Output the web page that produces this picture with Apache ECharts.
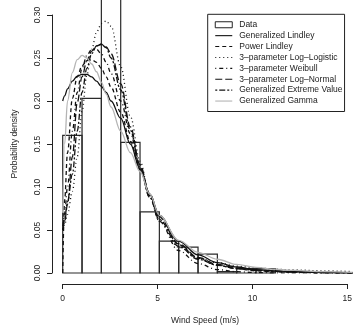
<!DOCTYPE html>
<html><head><meta charset="utf-8">
<script src="https://cdn.jsdelivr.net/npm/echarts@6/dist/echarts.min.js"></script>
<style>html,body{margin:0;padding:0;background:#fff}#c{width:355px;height:332px}</style>
</head><body><div id="c"></div>
<script>
// Histogram bins (wind speed, m/s) and densities
const binStart = [0, 1, 2, 3, 4, 5, 6, 7, 8, 9, 10];
const binEnd   = [1, 2, 3, 4, 5, 6, 7, 8, 9, 10, 11];
const density  = [0.160, 0.203, 0.320, 0.152, 0.071, 0.037, 0.030, 0.022, 0.0015, 0.005, 0.005];

// Fitted density curves
const xs  = [0, 0.1, 0.25, 0.5, 0.75, 1, 1.25, 1.5, 1.75, 2, 2.25, 2.5, 3, 3.5, 4, 4.5, 5, 6, 7, 8, 9, 10, 11, 12, 13.5, 15];
const genLindley = [0.2, 0.206, 0.214, 0.223, 0.229, 0.231, 0.231, 0.228, 0.223, 0.217, 0.21, 0.2, 0.18, 0.15, 0.121, 0.092, 0.067, 0.037, 0.021, 0.012, 0.007, 0.004, 0.0025, 0.0015, 0.0006, 0.0002];
const powLindley = [0.0, 0.085, 0.14, 0.203, 0.228, 0.241, 0.247, 0.248, 0.245, 0.238, 0.228, 0.216, 0.187, 0.153, 0.12, 0.09, 0.065, 0.033, 0.017, 0.009, 0.005, 0.0025, 0.0013, 0.0007, 0.0002, 0.0001];
const logLogistic3 = [0.05, 0.056, 0.068, 0.095, 0.135, 0.188, 0.23, 0.26, 0.28, 0.29, 0.293, 0.287, 0.24, 0.182, 0.13, 0.09, 0.06, 0.03, 0.018, 0.012, 0.008, 0.006, 0.0045, 0.0035, 0.0025, 0.0017];
const weibull3 = [0.05, 0.07, 0.1, 0.165, 0.21, 0.238, 0.253, 0.26, 0.26, 0.255, 0.245, 0.232, 0.2, 0.162, 0.122, 0.088, 0.06, 0.026, 0.011, 0.004, 0.0015, 0.0005, 0.0002, 0.0001, 0, 0];
const logNormal3 = [0.05, 0.06, 0.08, 0.135, 0.198, 0.228, 0.247, 0.258, 0.264, 0.266, 0.263, 0.255, 0.22, 0.17, 0.126, 0.092, 0.066, 0.034, 0.018, 0.01, 0.006, 0.0035, 0.0022, 0.0014, 0.0007, 0.0003];
const genExtreme = [0.05, 0.063, 0.083, 0.115, 0.165, 0.21, 0.238, 0.255, 0.264, 0.266, 0.262, 0.25, 0.213, 0.166, 0.123, 0.088, 0.062, 0.031, 0.016, 0.009, 0.005, 0.003, 0.0018, 0.001, 0.0005, 0.0002];
const genGamma = [0.07, 0.15, 0.2, 0.233, 0.248, 0.253, 0.25, 0.243, 0.234, 0.222, 0.208, 0.193, 0.165, 0.14, 0.118, 0.092, 0.067, 0.038, 0.024, 0.016, 0.01, 0.0065, 0.0045, 0.003, 0.0015, 0.0008];

const seriesNames = ['Data', 'Generalized Lindley', 'Power Lindley', '3–parameter Log–Logistic',
  '3–parameter Weibull', '3–parameter Log–Normal', 'Generalized Extreme Value', 'Generalized Gamma'];
const xTicks = ['0', '5', '10', '15'];
const yTicks = ['0.00', '0.05', '0.10', '0.15', '0.20', '0.25', '0.30'];

const FONT = '"Liberation Sans", Arial, Helvetica, sans-serif';
const TXT = '#222';
const chart = echarts.init(document.getElementById('c'), null, {renderer: 'canvas'});

function mk(vals) { return xs.map((x, i) => [x, vals[i]]); }
function line(name, vals, color, type, width) {
  return {
    name, type: 'line', xAxisIndex: 0, yAxisIndex: 0, data: mk(vals),
    symbol: 'none', smooth: 0.35, smoothMonotone: 'x', silent: true,
    lineStyle: {color, width, type}, itemStyle: {color}, z: 3
  };
}

const histData = binStart.map((s, i) => [s, binEnd[i], density[i]]);

chart.setOption({
  animation: false,
  backgroundColor: '#fff',
  grid: [
    {left: 62.7, right: 2.3, top: 0, bottom: 59},
    {left: 62.7, right: 2.3, top: 270, bottom: 48},
    {left: 52, width: 10, top: 15, bottom: 59}
  ],
  xAxis: [
    {gridIndex: 0, type: 'value', min: 0, max: 15, show: false},
    {gridIndex: 1, type: 'value', min: 0, max: 15, interval: 5,
     axisLine: {show: true, lineStyle: {color: '#222', width: 1}},
     axisTick: {show: true, length: 5, lineStyle: {color: '#222', width: 1}},
     axisLabel: {margin: 10, fontSize: 8.5, fontFamily: FONT, color: TXT,
       formatter: (v) => xTicks[Math.round(v / 5)]},
     splitLine: {show: false},
     name: 'Wind Speed (m/s)', nameLocation: 'middle', nameGap: 32,
     nameTextStyle: {fontSize: 8.5, fontFamily: FONT, color: TXT}},
    {gridIndex: 2, type: 'value', show: false}
  ],
  yAxis: [
    {gridIndex: 0, type: 'value', min: 0, max: 0.3 * 273 / 258, show: false},
    {gridIndex: 1, type: 'value', show: false},
    {gridIndex: 2, type: 'value', min: 0, max: 0.3, interval: 0.05, position: 'left',
     axisLine: {show: true, lineStyle: {color: '#222', width: 1}},
     axisTick: {show: true, length: 5, lineStyle: {color: '#222', width: 1}},
     axisLabel: {rotate: 90, margin: 10, fontSize: 8.5, fontFamily: FONT, color: TXT,
       formatter: (v) => yTicks[Math.round(v / 0.05)]},
     splitLine: {show: false},
     name: 'Probability density', nameLocation: 'middle', nameGap: 33,
     nameTextStyle: {fontSize: 8.5, fontFamily: FONT, color: TXT}}
  ],
  legend: {
    orient: 'vertical', left: 207.7, top: 14.3,
    padding: [5, 2, 5, 7], itemGap: 0, itemWidth: 17, itemHeight: 6,
    borderColor: '#222', borderWidth: 1, backgroundColor: '#fff',
    selectedMode: false,
    itemStyle: {opacity: 0},
    lineStyle: {width: 1.1},
    textStyle: {fontSize: 8.5, fontFamily: FONT, color: TXT, lineHeight: 10.9, padding: [0, 0, 0, 2]},
    data: [
      {name: seriesNames[0], icon: 'rect', itemStyle: {color: '#fff', borderColor: '#222', borderWidth: 1, opacity: 1}},
      seriesNames[1], seriesNames[2], seriesNames[3], seriesNames[4],
      seriesNames[5], seriesNames[6], seriesNames[7]
    ]
  },
  series: [
    {
      name: seriesNames[0], type: 'custom', xAxisIndex: 0, yAxisIndex: 0, silent: true, z: 2,
      data: histData, encode: {x: [0, 1], y: 2},
      itemStyle: {color: '#fff', borderColor: '#222'},
      renderItem: function (params, api) {
        const p0 = api.coord([api.value(0), 0]);
        const p1 = api.coord([api.value(1), api.value(2)]);
        return {
          type: 'rect',
          shape: {x: p0[0], y: p1[1], width: p1[0] - p0[0], height: p0[1] - p1[1]},
          style: {fill: 'none', stroke: '#2a2a2a', lineWidth: 1.2}
        };
      }
    },
    line(seriesNames[1], genLindley, '#111', 'solid', 1.3),
    line(seriesNames[2], powLindley, '#111', [4, 3], 1.3),
    line(seriesNames[3], logLogistic3, '#111', [1, 3], 1.3),
    line(seriesNames[4], weibull3, '#111', [1, 3, 4, 3], 1.3),
    line(seriesNames[5], logNormal3, '#111', [7, 3], 1.3),
    line(seriesNames[6], genExtreme, '#111', [2, 2, 6, 2], 1.3),
    line(seriesNames[7], genGamma, '#b4b4b4', 'solid', 1.3)
  ]
});
</script>
</body></html>
